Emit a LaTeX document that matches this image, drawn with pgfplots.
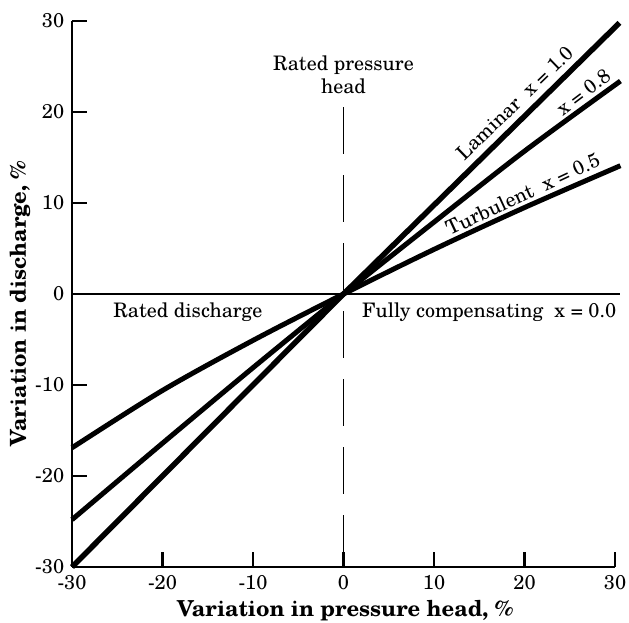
\documentclass[border=0pt]{standalone}
\usepackage{fontspec}
\setmainfont{TeX Gyre Schola}
\usepackage{pgfplots}
\pgfplotsset{compat=1.18}

\begin{document}
\fontsize{20}{23}\selectfont
\begin{tikzpicture}
\begin{axis}[
    scale only axis,
    width=543pt, height=546pt,
    xmin=-30, xmax=30, ymin=-30, ymax=30,
    axis x line=bottom, axis y line=left,
    axis line style={line width=2.6pt, -},
    xtick={-30,-20,...,30}, ytick={-30,-20,...,30},
    tick align=inside,
    major tick length=15pt,
    tick style={line width=2.4pt, black},
    /pgf/number format/assume math mode=true,
    ticklabel style={font=\fontsize{20}{23}\selectfont},
    xticklabel style={yshift=-2pt},
    yticklabel style={xshift=-1pt},
    xlabel={\bfseries Variation in pressure head, \%},
    ylabel={\bfseries Variation in discharge, \%},
    label style={font=\fontsize{22}{26}\selectfont},
    xlabel style={at={(axis description cs:0.503,-0.08)}, anchor=center},
    ylabel style={at={(axis description cs:-0.096,0.482)}, anchor=center},
    clip=false,
]
% horizontal reference line and rated head line
\addplot[black, line width=1.8pt] coordinates {(-30,0) (30.6,0)};
\addplot[black, line width=1.8pt, dash pattern=on 47pt off 21pt] coordinates {(0,20.5) (0,-30)};

% x = 1.0 (laminar)
\addplot[black, line width=5.5pt] coordinates {(-30,-30) (0,0) (30.5,29.8)};
% x = 0.8
\addplot[black, line width=5pt, smooth] coordinates {
    (-30,-24.8) (-20,-16.4) (-10,-8.1) (0,0) (10,7.9) (20,15.7) (30.6,23.4)};
% x = 0.5 (turbulent)
\addplot[black, line width=5pt, smooth] coordinates {
    (-30,-16.9) (-20,-10.6) (-10,-5.1) (0,0) (10,4.9) (20,9.5) (30.6,14.1)};

\node[align=center] at (axis cs:0,24.1) {Rated pressure\\head};
\node at (axis cs:-17.2,-2.0) {Rated discharge};
\node[anchor=east] at (axis cs:30.9,-2.0) {Fully compensating\ \ x = 0.0};
\node[rotate=44] at (axis cs:18.9,21.0) {Laminar\ \ x = 1.0};
\node[rotate=37] at (axis cs:26.5,22.2) {x = 0.8};
\node[rotate=25] at (axis cs:19.8,11.0) {Turbulent\ \ x = 0.5};
\end{axis}
\pgfresetboundingbox
\path (-72pt,-56pt) rectangle (557pt,567pt);
\end{tikzpicture}
\end{document}
